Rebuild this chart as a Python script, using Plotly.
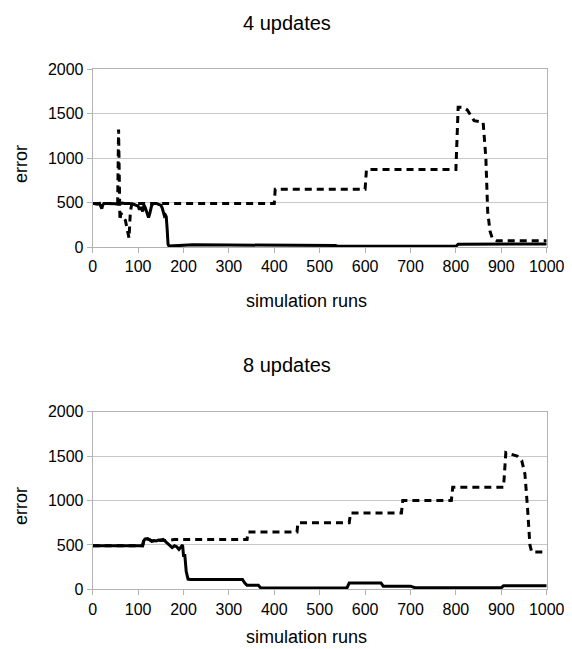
import plotly.graph_objects as go

# The page body has an 8px default margin, so the figure is drawn 8px in from
# the top-left corner of the window; all pixel positions below are page pixels.
OFF = 8
W, H = 572 - OFF, 649 - OFF

# ---- data: 4 updates ----
top_solid_x = [0, 5, 10, 15, 18, 20, 22, 25, 30, 40, 50, 55, 60, 65, 70, 80, 90, 95, 100, 103, 106, 110,
               113, 116, 120, 123, 126, 130, 135, 140, 145, 150, 153, 156, 158, 160, 162, 164, 166, 168,
               175, 200, 220, 300, 400, 500, 535, 540, 600, 700, 800, 805, 900, 1000]
top_solid_y = [490, 488, 480, 490, 450, 430, 470, 490, 490, 490, 485, 480, 490, 495, 490, 490, 480, 470,
               460, 420, 450, 400, 470, 440, 380, 330, 380, 470, 490, 490, 480, 470, 440, 380, 350, 360,
               340, 200, 30, 10, 12, 15, 25, 22, 20, 18, 18, 8, 8, 8, 8, 30, 32, 35]

top_dash_x = [0, 55, 57, 58, 60, 62, 65, 68, 72, 76, 80, 83, 86, 90, 400, 402, 600, 603, 800, 805,
              815, 825, 840, 860, 866, 870, 875, 880, 890, 1000]
top_dash_y = [490, 490, 1320, 600, 300, 380, 360, 340, 300, 200, 100, 400, 480, 490, 490, 650, 650,
              870, 870, 1570, 1570, 1540, 1420, 1400, 1000, 400, 180, 100, 70, 70]

# ---- data: 8 updates ----
bot_solid_x = [0, 110, 112, 115, 120, 125, 130, 135, 140, 145, 150, 155, 160, 165, 170, 175, 180, 185,
               190, 195, 198, 200, 203, 206, 208, 210, 215, 330, 335, 340, 365, 370, 560, 565, 635, 640,
               700, 710, 900, 905, 1000]
bot_solid_y = [490, 490, 540, 565, 570, 560, 540, 550, 545, 555, 550, 560, 540, 520, 500, 470, 490, 480,
               450, 490, 500, 380, 380, 200, 130, 115, 110, 110, 70, 45, 45, 15, 15, 70, 70, 35, 35, 18,
               18, 40, 40]

bot_dash_x = [0, 110, 112, 115, 120, 125, 130, 140, 150, 160, 170, 180, 200, 340, 342, 450, 452, 565,
              568, 680, 683, 790, 793, 905, 910, 935, 945, 952, 958, 963, 967, 1000]
bot_dash_y = [490, 490, 540, 565, 570, 560, 545, 550, 555, 550, 555, 560, 560, 560, 645, 645, 750, 750,
              860, 860, 1000, 1000, 1150, 1150, 1540, 1500, 1450, 1300, 900, 500, 420, 420]

titles = ["4 updates", "8 updates"]
x_title = "simulation runs"
y_title = "error"
x_ticks = list(range(0, 1001, 100))
y_ticks = [0, 500, 1000, 1500, 2000]

FONT = "Liberation Sans, Arial, sans-serif"

fig = go.Figure()
fig.add_trace(go.Scatter(x=top_dash_x, y=top_dash_y, mode="lines", xaxis="x", yaxis="y",
                         line=dict(color="black", width=3, dash="7px,5px"), showlegend=False))
fig.add_trace(go.Scatter(x=top_solid_x, y=top_solid_y, mode="lines", xaxis="x", yaxis="y",
                         line=dict(color="black", width=3), showlegend=False))
fig.add_trace(go.Scatter(x=bot_dash_x, y=bot_dash_y, mode="lines", xaxis="x2", yaxis="y2",
                         line=dict(color="black", width=3, dash="7px,5px"), showlegend=False))
fig.add_trace(go.Scatter(x=bot_solid_x, y=bot_solid_y, mode="lines", xaxis="x2", yaxis="y2",
                         line=dict(color="black", width=3), showlegend=False))


def px_x(p):
    return (p - OFF) / W


def px_y(p):
    return 1 - (p - OFF) / H


xdom = [px_x(92.7), px_x(546.7)]
top_dom = [px_y(247), px_y(69)]
bot_dom = [px_y(589.3), px_y(411.7)]

xcommon = dict(range=[0, 1000], tickvals=x_ticks, showgrid=False, zeroline=False,
               showline=True, linecolor="#b3b3b3", linewidth=1, mirror=True,
               ticks="outside", ticklen=5, tickcolor="#b3b3b3",
               tickfont=dict(family=FONT, size=16, color="black"), domain=xdom, automargin=False)
ycommon = dict(range=[0, 2000], tickvals=y_ticks, showgrid=True, gridcolor="#c8c8c8", zeroline=False,
               showline=True, linecolor="#b3b3b3", linewidth=1, mirror=True,
               ticks="outside", ticklen=5, tickcolor="#b3b3b3",
               tickfont=dict(family=FONT, size=16, color="black"), automargin=False)

fig.update_layout(
    width=W, height=H,
    margin=dict(l=0, r=0, t=0, b=0),
    paper_bgcolor="white", plot_bgcolor="white",
    xaxis=dict(**xcommon, anchor="y"),
    yaxis=dict(**ycommon, domain=top_dom, anchor="x"),
    xaxis2=dict(**xcommon, anchor="y2"),
    yaxis2=dict(**ycommon, domain=bot_dom, anchor="x2"),
)


def ann(text, px, py, size, angle=0):
    fig.add_annotation(text=text, x=px_x(px), y=px_y(py), xref="paper", yref="paper",
                       xanchor="center", yanchor="middle", showarrow=False, textangle=angle,
                       borderpad=0, font=dict(family=FONT, size=size, color="black"))


ann(titles[0], 287, 23, 20)
ann(titles[1], 287, 365, 20)
ann(x_title, 306, 301, 18)
ann(x_title, 306, 637, 18)
ann(y_title, 21, 164, 18, -90)
ann(y_title, 21, 506, 18, -90)

fig.write_html("out.html")
